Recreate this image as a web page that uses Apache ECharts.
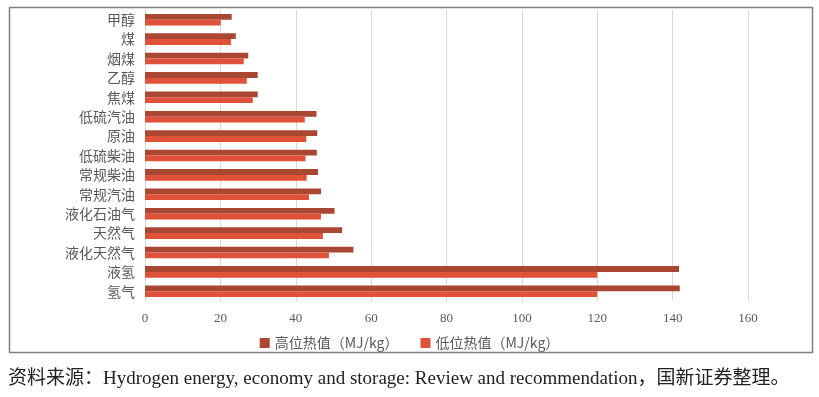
<!DOCTYPE html>
<html>
<head>
<meta charset="utf-8">
<script src="https://cdn.jsdelivr.net/npm/echarts@6/dist/echarts.min.js"></script>
<style>
  html, body { margin: 0; padding: 0; background: #fff; }
  #main { width: 819px; height: 397px; }
</style>
</head>
<body>
<div id="main"></div>
<script>
// categories top to bottom
var fuels = ['甲醇', '煤', '烟煤', '乙醇', '焦煤', '低硫汽油', '原油', '低硫柴油', '常规柴油', '常规汽油', '液化石油气', '天然气', '液化天然气', '液氢', '氢气'];
var hhv = [23.0, 24.1, 27.4, 29.9, 29.9, 45.5, 45.7, 45.6, 45.9, 46.7, 50.3, 52.3, 55.3, 141.7, 141.9];
var lhv = [20.1, 22.8, 26.2, 27.0, 28.6, 42.4, 42.8, 42.6, 42.9, 43.5, 46.7, 47.2, 48.8, 120.0, 120.0];
var seriesNames = ['高位热值（MJ/kg）', '低位热值（MJ/kg）'];
var xTicks = [0, 20, 40, 60, 80, 100, 120, 140, 160];
var source = '资料来源：Hydrogen energy, economy and storage: Review and recommendation，国新证券整理。';

var chart = echarts.init(document.getElementById('main'), null, {renderer: 'canvas'});
var option = {
    animation: false,
    backgroundColor: '#fff',
    color: ['#AA4733', '#E0513A'],
    grid: {left: 145, right: 71, top: 10, bottom: 96},
    legend: {
        data: seriesNames,
        top: 331,
        left: 'center',
        itemWidth: 10,
        itemHeight: 10,
        itemGap: 22,
        icon: 'rect',
        textStyle: {color: '#595959', fontSize: 14, fontFamily: 'Noto Sans CJK SC'}
    },
    xAxis: {
        type: 'value',
        min: 0,
        max: 160,
        interval: 20,
        axisLine: {show: false},
        axisTick: {show: false},
        splitLine: {show: true, lineStyle: {color: '#d9d9d9', width: 1}},
        axisLabel: {
            color: '#595959', fontSize: 13, margin: 11,
            fontFamily: 'Liberation Serif',
            formatter: function (v) { return xTicks.indexOf(v) >= 0 ? String(v) : ''; }
        }
    },
    yAxis: {
        type: 'category',
        inverse: true,
        data: fuels,
        axisLine: {show: true, lineStyle: {color: '#d9d9d9'}},
        axisTick: {show: false},
        axisLabel: {color: '#595959', fontSize: 14, margin: 10, fontFamily: 'Noto Sans CJK SC'}
    },
    series: [
        {name: seriesNames[0], type: 'bar', data: hhv, barGap: '0%', barCategoryGap: '40%'},
        {name: seriesNames[1], type: 'bar', data: lhv, barGap: '0%', barCategoryGap: '40%'}
    ],
    graphic: [
        {
            type: 'rect',
            shape: {x: 9.5, y: 7.5, width: 803, height: 345},
            style: {fill: 'none', stroke: '#7f7f7f', lineWidth: 1.5},
            silent: true
        },
        {
            type: 'text',
            left: 8,
            top: 370,
            style: {
                text: source,
                fill: '#222',
                font: '19px "Liberation Serif", "Noto Sans CJK SC", serif'
            }
        }
    ]
};
chart.setOption(option);
</script>
</body>
</html>
